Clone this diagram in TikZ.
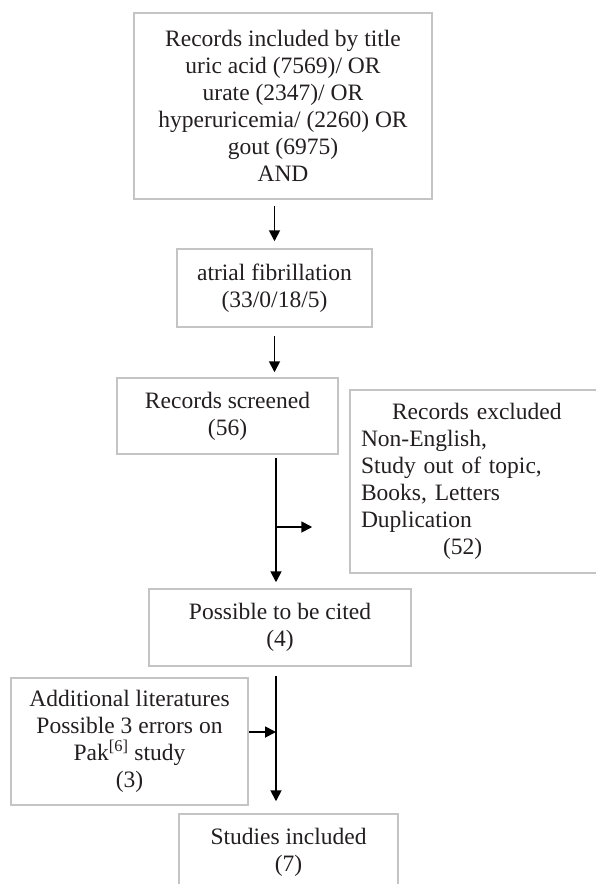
\documentclass[tikz,border=0pt]{standalone}
\usepackage{fontspec}
\setmainfont{Liberation Serif}
\usetikzlibrary{arrows.meta,calc}
\definecolor{boxgray}{HTML}{C4C4C4}
\definecolor{txt}{HTML}{231F20}
\begin{document}
\begin{tikzpicture}[x=1pt,y=-1pt,
  box/.style={draw=boxgray,line width=1.5pt,rectangle,inner sep=0pt,align=center,
    text=txt,font=\fontsize{23.5}{27}\selectfont},
  arr/.style={line width=1.8pt,-{Triangle[length=11pt,width=11pt]}}]
\useasboundingbox (0,0) rectangle (596,884);
\node[box,minimum width=298pt,minimum height=186pt] (top) at (283,106)
  {Records included by title\\uric acid (7569)/ OR\\urate (2347)/ OR\\hyperuricemia/ (2260) OR\\gout (6975)\\AND};
\node[box,minimum width=195pt,minimum height=78pt] (af) at (274.5,288)
  {atrial fibrillation\\(33/0/18/5)};
\node[box,minimum width=221pt,minimum height=76pt] (scr) at (227.5,416)
  {Records screened\\(56)};
\node[box,minimum width=270pt,minimum height=183pt,text width=248pt,inner xsep=11pt,align=left] (exc) at (485,481.5)
  {\hspace*{31pt}Records excluded\\Non-English,\\Study out of topic,\\Books, Letters\\Duplication\\\hspace*{82pt}(52)};
\node[box,minimum width=262pt,minimum height=77pt] (pos) at (280,627.5)
  {Possible to be cited\\(4)};
\node[box,minimum width=237pt,minimum height=127pt] (add) at (129.5,741.5)
  {Additional literatures\\Possible 3 errors on\\Pak\textsuperscript{[6]} study\\(3)};
\node[box,minimum width=219pt,minimum height=76pt] (stu) at (288.5,852)
  {Studies included\\(7)};
\coordinate (j1) at (276,527);
\coordinate (j2) at (276,732);
\draw[arr,shorten <=6pt,shorten >=7pt] (af.north |- top.south) -- (af.north);
\draw[arr,shorten <=8pt,shorten >=5pt] (af.south) -- (af.south |- scr.north);
\draw[arr,shorten <=3pt,shorten >=6pt] (j1 |- scr.south) -- (j1 |- pos.north);
\draw[arr,shorten >=37pt] (j1) -- (j1 -| exc.west);
\draw[arr,shorten <=9pt,shorten >=12pt] (j2 |- pos.south) -- (j2 |- stu.north);
\draw[arr] (add.east |- j2) -- (j2);
\end{tikzpicture}
\end{document}
